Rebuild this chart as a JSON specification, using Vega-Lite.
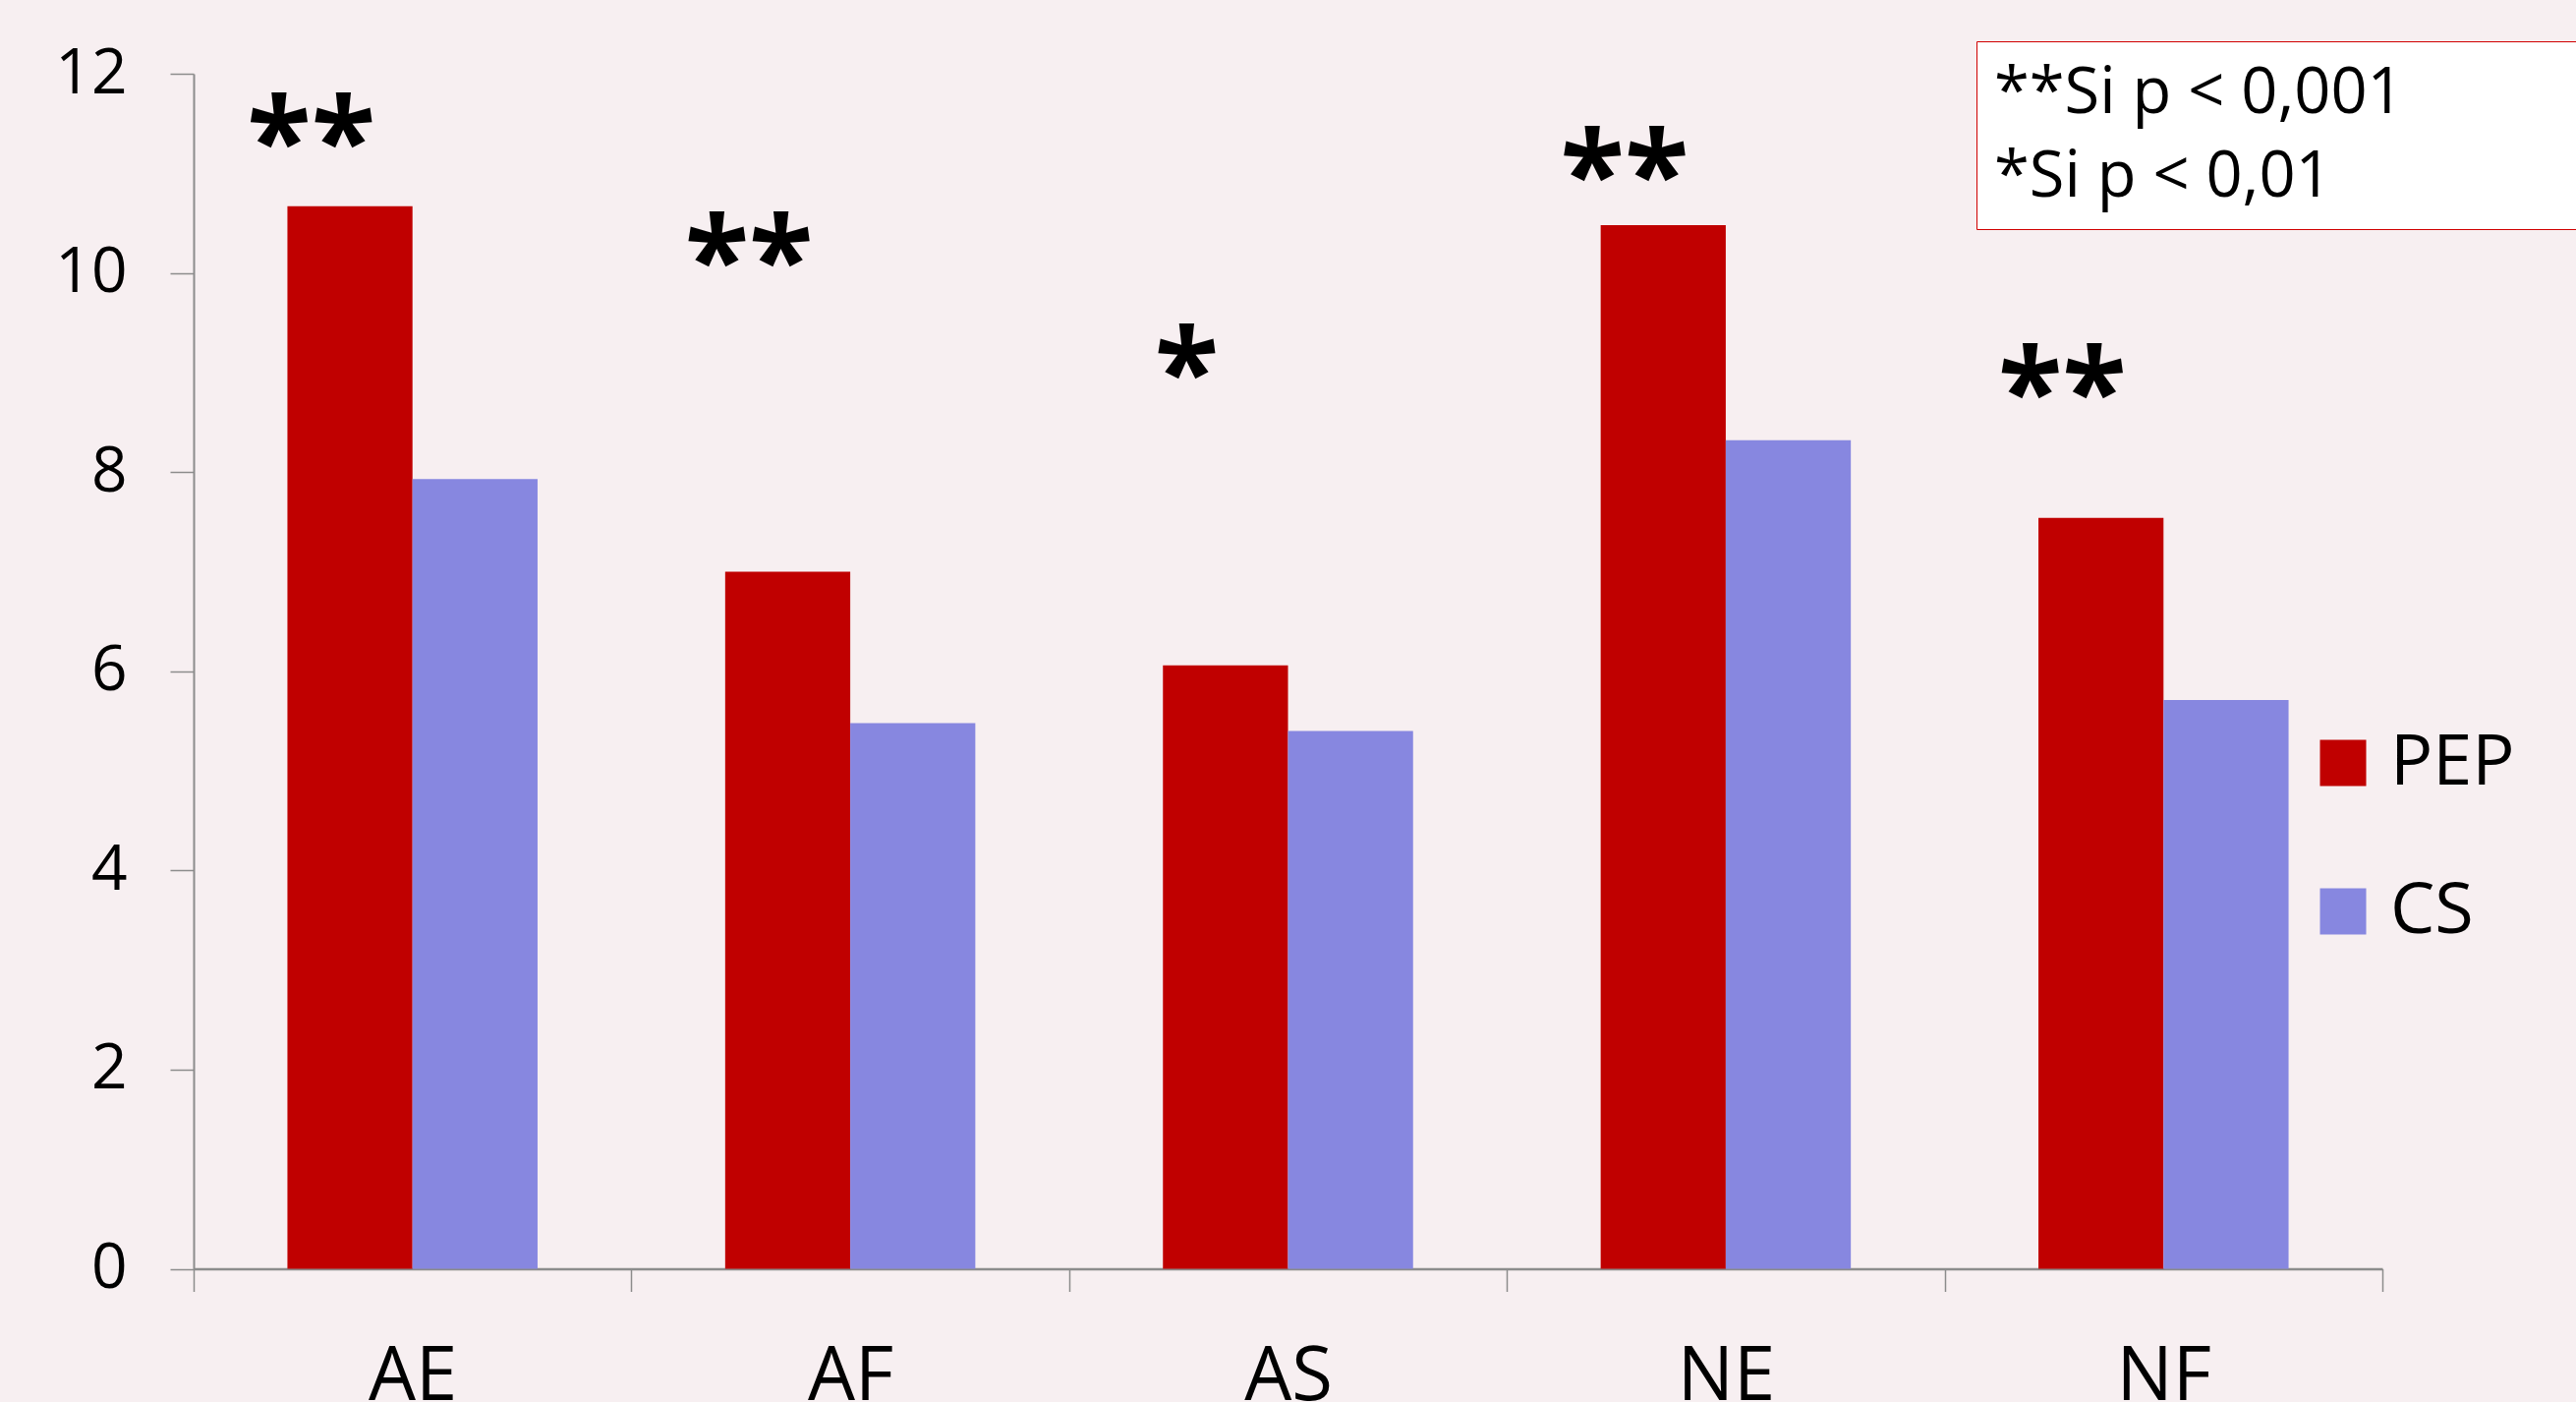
{
  "$schema": "https://vega.github.io/schema/vega-lite/v6.json",
  "autosize": {"type": "none"},
  "width": 2227,
  "height": 1215.5,
  "padding": {"left": 197, "top": 75, "right": 197, "bottom": 135.5},
  "background": "#f7eff1",
  "config": {"view": {"stroke": null}, "font": "Open Sans"},
  "datasets": {
    "bars": [
      {"cat": "AE", "group": "PEP", "value": 10.67},
      {"cat": "AE", "group": "CS", "value": 7.93},
      {"cat": "AF", "group": "PEP", "value": 7.0},
      {"cat": "AF", "group": "CS", "value": 5.48},
      {"cat": "AS", "group": "PEP", "value": 6.06},
      {"cat": "AS", "group": "CS", "value": 5.4},
      {"cat": "NE", "group": "PEP", "value": 10.48},
      {"cat": "NE", "group": "CS", "value": 8.32},
      {"cat": "NF", "group": "PEP", "value": 7.54},
      {"cat": "NF", "group": "CS", "value": 5.71}
    ],
    "stars": [
      {"cat": "AE", "stars": "**", "pos": 11.46, "note": "**Si p < 0,001"},
      {"cat": "AF", "stars": "**", "pos": 10.26, "note": "**Si p < 0,001"},
      {"cat": "AS", "stars": "*", "pos": 9.14, "note": "*Si p < 0,01"},
      {"cat": "NE", "stars": "**", "pos": 11.12, "note": "**Si p < 0,001"},
      {"cat": "NF", "stars": "**", "pos": 8.94, "note": "**Si p < 0,001"}
    ]
  },
  "layer": [
    {
      "data": {"name": "bars"},
      "mark": {"type": "bar"},
      "encoding": {
        "x": {
          "field": "cat", "type": "nominal", "sort": ["AE", "AF", "AS", "NE", "NF"],
          "scale": {"paddingInner": 0, "paddingOuter": 0},
          "axis": {
            "title": null, "labelAngle": 0, "tickBand": "extent", "tickSize": 23, "tickWidth": 1.5,
            "tickColor": "#8c8c8c", "domainColor": "#8c8c8c", "domainWidth": 2.5,
            "labelFontSize": 76, "labelColor": "#000000", "labelPadding": 50, "labelFont": "Open Sans"
          }
        },
        "xOffset": {"field": "group", "type": "nominal", "sort": ["PEP", "CS"], "scale": {"paddingInner": 0, "paddingOuter": 0.75}},
        "y": {
          "field": "value", "type": "quantitative",
          "scale": {"domain": [0, 12], "nice": false},
          "axis": {
            "title": null, "values": [0, 2, 4, 6, 8, 10, 12], "format": "d", "grid": false,
            "tickSize": 24, "tickWidth": 1.5, "tickColor": "#8c8c8c", "domainColor": "#8c8c8c", "domainWidth": 2,
            "labelFontSize": 64, "labelColor": "#000000", "labelPadding": 44, "labelFont": "Open Sans"
          }
        },
        "color": {
          "field": "group", "type": "nominal",
          "scale": {"domain": ["PEP", "CS"], "range": ["#c00000", "#8787e0"]},
          "legend": {
            "title": null, "orient": "none", "legendX": 2151, "legendY": 665,
            "symbolType": "square", "symbolSize": 2209, "symbolStrokeWidth": 0, "symbolOpacity": 1,
            "labelFontSize": 72, "labelOffset": 12, "rowPadding": 79, "padding": 0,
            "labelLimit": 600, "labelColor": "#000000", "labelFont": "Open Sans"
          }
        }
      }
    },
    {
      "data": {"name": "stars"},
      "mark": {"type": "text", "fontSize": 120, "fontWeight": "bold", "dx": -103, "dy": 20, "baseline": "middle", "font": "Open Sans"},
      "encoding": {
        "x": {"field": "cat", "type": "nominal", "sort": ["AE", "AF", "AS", "NE", "NF"]},
        "y": {"field": "pos", "type": "quantitative"},
        "text": {"field": "stars"},
        "color": {
          "field": "note", "type": "nominal",
          "scale": {"domain": ["**Si p < 0,001", "*Si p < 0,01"], "range": ["#000000", "#000000"]},
          "legend": {
            "title": "\u00a0", "titleOrient": "right", "titlePadding": 220, "titleFontSize": 10,
            "orient": "none", "legendX": 1814, "legendY": -33,
            "symbolSize": 0, "symbolStrokeWidth": 0, "symbolOpacity": 0, "labelOffset": -67,
            "labelFontSize": 65, "rowPadding": 19, "padding": 20,
            "strokeColor": "#d00000", "fillColor": "#ffffff",
            "labelLimit": 1500, "labelColor": "#000000", "labelFont": "Open Sans"
          }
        }
      }
    }
  ],
  "resolve": {"scale": {"color": "independent"}}
}
